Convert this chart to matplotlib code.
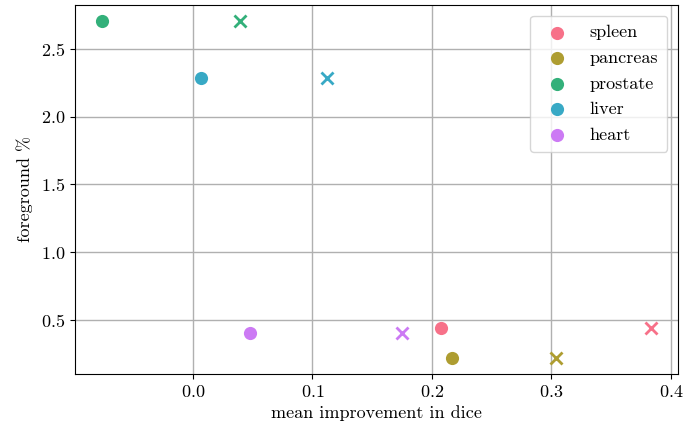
import matplotlib
matplotlib.use("Agg")
import matplotlib.pyplot as plt
import seaborn as sns

organs = ["spleen", "pancreas", "prostate", "liver", "heart"]
foreground = [0.441, 0.219, 2.707, 2.286, 0.404]
improve_circle = [0.2075, 0.2167, -0.076, 0.0067, 0.048]
improve_cross = [0.383, 0.3038, 0.039, 0.112, 0.175]

plt.rcParams["font.family"] = ["cmr10", "DejaVu Serif"]
plt.rcParams["mathtext.fontset"] = "cm"
plt.rcParams["axes.unicode_minus"] = False
plt.rcParams["axes.formatter.use_mathtext"] = True

colors = sns.color_palette("husl", len(organs))
fs = 13

fig = plt.figure(figsize=(6.83, 4.29), dpi=100)
ax = fig.add_axes([75/683, 1-374/429, (678-75)/683, (374-5)/429])

for name, c, xc, xx, y in zip(organs, colors, improve_circle, improve_cross, foreground):
    ax.scatter([xc], [y], s=90, color=c, marker="o", label=name, zorder=3, linewidths=0)
    ax.scatter([xx], [y], s=75, color=c, marker="x", zorder=3, linewidths=2)

ax.set_xlim(-0.0987, 0.406)
ax.set_ylim(0.101, 2.825)
ax.set_xticks([0.0, 0.1, 0.2, 0.3, 0.4])
ax.set_yticks([0.5, 1.0, 1.5, 2.0, 2.5])
ax.tick_params(labelsize=fs)
ax.grid(True, color="#b0b0b0", linewidth=1)
ax.set_axisbelow(True)
ax.set_xlabel("mean improvement in dice", fontsize=fs)
ax.set_ylabel("foreground %", fontsize=fs, labelpad=6)
ax.legend(loc="upper right", fontsize=fs, handletextpad=0.8, labelspacing=0.55,
          borderpad=0.5, borderaxespad=0.6)

fig.savefig("out.png", dpi=100)
